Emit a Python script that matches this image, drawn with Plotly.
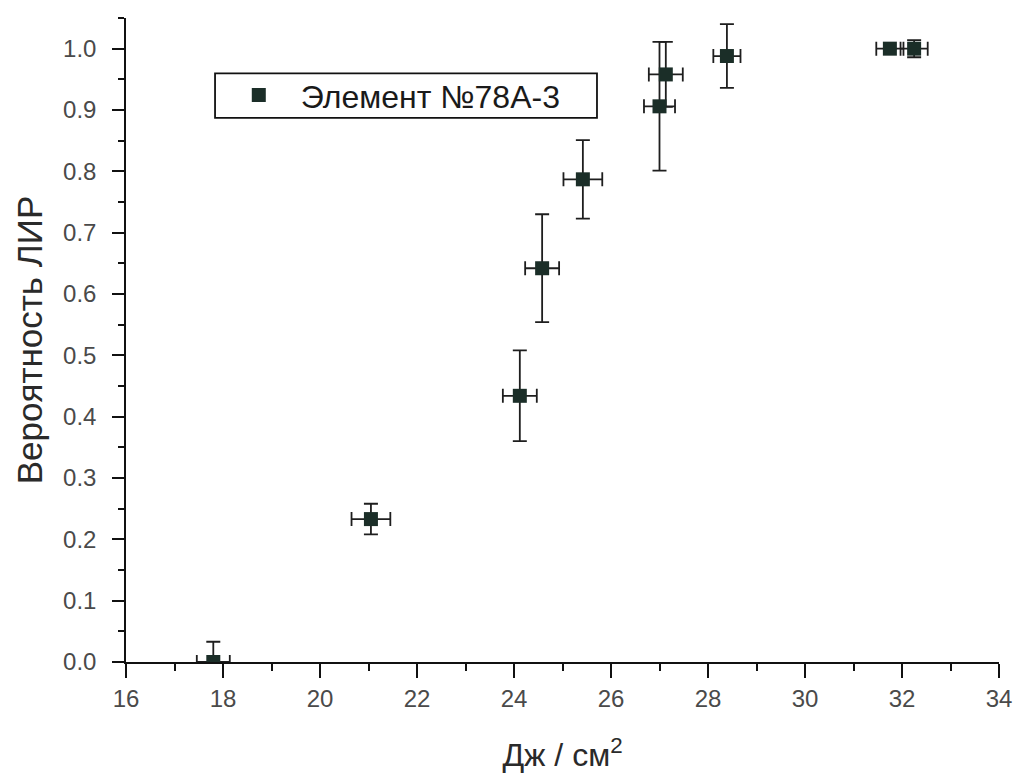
import plotly.graph_objects as go

# Data
fluence = [17.8, 21.05, 24.12, 24.58, 25.42, 27.0, 27.13, 28.39, 31.75, 32.25]
probability = [0.0, 0.233, 0.434, 0.642, 0.787, 0.906, 0.958, 0.988, 1.0, 1.0]
prob_err = [0.033, 0.025, 0.074, 0.088, 0.064, 0.105, 0.053, 0.052, 0.0, 0.014]
fluence_err = [0.34, 0.4, 0.35, 0.35, 0.4, 0.32, 0.35, 0.28, 0.28, 0.28]
series_name = "Элемент №78А-3"
x_ticks = [16, 18, 20, 22, 24, 26, 28, 30, 32, 34]
y_ticks = [0.0, 0.1, 0.2, 0.3, 0.4, 0.5, 0.6, 0.7, 0.8, 0.9, 1.0]

FONT = "Liberation Sans, Arial, sans-serif"
MARK = "#1b2e28"

fig = go.Figure()
fig.add_trace(go.Scatter(
    x=fluence, y=probability, mode="markers", name=series_name,
    marker=dict(symbol="square", size=14, color=MARK),
    error_y=dict(type="data", array=prob_err, visible=True, color="#1e1e1e", thickness=1.8, width=7),
    error_x=dict(type="data", array=fluence_err, visible=True, color="#1e1e1e", thickness=1.8, width=7),
))

fig.update_layout(
    width=1016, height=774,
    margin=dict(l=126, r=17, t=18, b=112),
    paper_bgcolor="white", plot_bgcolor="white",
    font=dict(family=FONT, color="#222222"),
    showlegend=True,
    legend=dict(
        x=0.104, y=0.88, xanchor="left", yanchor="middle",
        bgcolor="rgba(0,0,0,0)", borderwidth=0,
        font=dict(size=32, family=FONT, color="#1a1a1a"),
        itemwidth=74,
    ),
    shapes=[dict(type="rect", xref="paper", yref="paper",
                 x0=0.102, x1=0.5395, y0=0.845, y1=0.914,
                 line=dict(color="#111111", width=1.8), fillcolor="rgba(0,0,0,0)", layer="above")],
)
fig.update_xaxes(
    range=[16, 34], tickvals=x_ticks, ticktext=[str(v) for v in x_ticks],
    showgrid=False, zeroline=False, showline=True, linecolor="#111111", linewidth=1.5,
    ticks="outside", ticklen=14, tickwidth=1.5, tickcolor="#111111",
    tickfont=dict(size=24, color="#4a4a4a", family=FONT),
    minor=dict(dtick=1, tick0=16, ticks="outside", ticklen=7, tickwidth=1.5, tickcolor="#111111", showgrid=False),
    title=dict(text="Дж / см<sup>2</sup>", font=dict(size=32, color="#2a2a2a", family=FONT), standoff=33),
    automargin=False,
)
fig.update_yaxes(
    range=[0, 1.05], tickvals=y_ticks, ticktext=[f"{v:.1f}" for v in y_ticks],
    showgrid=False, zeroline=False, showline=True, linecolor="#111111", linewidth=1.5,
    ticks="outside", ticklen=12, tickwidth=1.5, tickcolor="#111111",
    tickfont=dict(size=24, color="#4a4a4a", family=FONT),
    ticklabelstandoff=11,
    minor=dict(dtick=0.05, tick0=0, ticks="outside", ticklen=6, tickwidth=1.5, tickcolor="#111111", showgrid=False),
    title=dict(text="Вероятность ЛИР", font=dict(size=35, color="#2a2a2a", family=FONT), standoff=10),
    automargin=False,
)

# remove the browser's default 8px body margin so the 1016x774 figure fills the window
fig.write_html("out.html", config={"displayModeBar": False},
               post_script="document.body.style.margin='0';")
